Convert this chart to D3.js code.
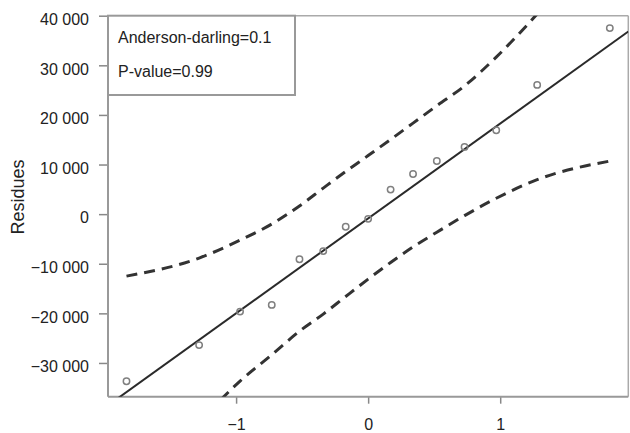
<!DOCTYPE html>
<html>
<head>
<meta charset="utf-8">
<script src="https://cdn.jsdelivr.net/npm/d3@7"></script>
<style>
  body { margin: 0; background: #fff; }
  text { font-family: "Liberation Sans", Arial, sans-serif; }
</style>
</head>
<body>
<div id="chart"></div>
<script>
// normal quantiles (x) and residues (y)
const quantiles = [-1.83, -1.28, -0.97, -0.73, -0.52, -0.34, -0.17, 0, 0.17, 0.34, 0.52, 0.73, 0.97, 1.28, 1.83];
const residues = [-33700, -26400, -19650, -18300, -9100, -7450, -2550, -950, 4950, 8100, 10700, 13550, 16900, 26050, 37500];
// confidence band, same x as the quantiles
const upperBand = [-12500, -8850, -5250, -2000, 1650, 5250, 8600, 11800, 15050, 18350, 21850, 25850, 31650, 40350, 57700];
const lowerBand = [-59400, -42000, -33650, -28350, -23600, -20150, -16600, -13100, -9750, -6600, -3650, -300, 3200, 6950, 10700];
// fitted line ends
const fitX = [-1.97, 1.97];
const fitY = [-38550, 36820];

const yTicks = [-30000, -20000, -10000, 0, 10000, 20000, 30000, 40000];
const xTicks = [-1, 0, 1];
const legendLines = ["Anderson-darling=0.1", "P-value=0.99"];

const W = 630, H = 433;
const pLeft = 108, pRight = 628.3, pTop = 15.7, pBottom = 396.7;

const svg = d3.select("#chart").append("svg")
    .attr("width", W)
    .attr("height", H);

const x = d3.scaleLinear().domain([-1.97, 1.97]).range([pLeft, pRight]);
const y = d3.scaleLinear().domain([-36800, 40000]).range([pBottom, pTop]);

svg.append("clipPath").attr("id", "plotclip")
  .append("rect")
    .attr("x", pLeft).attr("y", pTop)
    .attr("width", pRight - pLeft).attr("height", pBottom - pTop);

const fmt = d3.formatLocale({decimal: ".", thousands: " ", grouping: [3], currency: ["", ""], minus: "\u2212"}).format(",d");

// y axis
const yAx = svg.append("g")
    .attr("transform", `translate(${pLeft},0)`)
    .call(d3.axisLeft(y).tickValues(yTicks).tickFormat(fmt).tickSize(9).tickPadding(10));
yAx.select(".domain").remove();
yAx.selectAll(".tick line").attr("stroke", "#888").attr("stroke-width", 1.5);
yAx.selectAll(".tick text").attr("font-size", 16).attr("fill", "#222").attr("dy", "0.55em")
    .style("font-family", '"Liberation Sans", Arial, sans-serif');

// x axis
const xAx = svg.append("g")
    .attr("transform", `translate(0,${pBottom})`)
    .call(d3.axisBottom(x).tickValues(xTicks).tickFormat(fmt).tickSize(7).tickPadding(15));
xAx.select(".domain").remove();
xAx.selectAll(".tick line").attr("stroke", "#888").attr("stroke-width", 1.5);
xAx.selectAll(".tick text").attr("font-size", 16).attr("fill", "#222")
    .style("font-family", '"Liberation Sans", Arial, sans-serif');

// frame
const frame = svg.append("g").attr("fill", "none");
frame.append("line").attr("x1", pLeft).attr("x2", pRight).attr("y1", pTop).attr("y2", pTop)
    .attr("stroke", "#aaa").attr("stroke-width", 1.5);
frame.append("line").attr("x1", pRight).attr("x2", pRight).attr("y1", pTop).attr("y2", pBottom)
    .attr("stroke", "#aaa").attr("stroke-width", 1.5);
frame.append("line").attr("x1", pLeft).attr("x2", pRight).attr("y1", pBottom).attr("y2", pBottom)
    .attr("stroke", "#999").attr("stroke-width", 2);
frame.append("line").attr("x1", pLeft).attr("x2", pLeft).attr("y1", pTop).attr("y2", pBottom)
    .attr("stroke", "#999").attr("stroke-width", 2);

const plot = svg.append("g").attr("clip-path", "url(#plotclip)");

// bands
const bandLine = d3.line().curve(d3.curveMonotoneX).x(d => x(d[0])).y(d => y(d[1]));
[upperBand, lowerBand].forEach(b => {
  plot.append("path")
      .attr("d", bandLine(d3.zip(quantiles, b)))
      .attr("fill", "none")
      .attr("stroke", "#333")
      .attr("stroke-width", 3)
      .attr("stroke-dasharray", "11,7");
});

// fitted line
plot.append("path")
    .attr("d", d3.line().x(d => x(d[0])).y(d => y(d[1]))(d3.zip(fitX, fitY)))
    .attr("fill", "none")
    .attr("stroke", "#2a2a2a")
    .attr("stroke-width", 2);

// points
plot.selectAll("circle.pt")
  .data(d3.zip(quantiles, residues))
  .join("circle")
    .attr("class", "pt")
    .attr("cx", d => x(d[0]))
    .attr("cy", d => y(d[1]))
    .attr("r", 3.2)
    .attr("fill", "none")
    .attr("stroke", "#808080")
    .attr("stroke-width", 1.5);

// legend box
svg.append("rect")
    .attr("x", pLeft).attr("y", pTop)
    .attr("width", 295 - pLeft).attr("height", 95 - pTop)
    .attr("fill", "#fff")
    .attr("stroke", "#999")
    .attr("stroke-width", 2);
svg.selectAll("text.leg")
  .data(legendLines)
  .join("text")
    .attr("class", "leg")
    .attr("x", 118)
    .attr("y", (d, i) => 42.5 + i * 34)
    .attr("font-size", 16)
    .attr("fill", "#222")
    .text(d => d);

// axis title
svg.append("text")
    .attr("transform", "translate(24,197) rotate(-90)")
    .attr("text-anchor", "middle")
    .attr("font-size", 18)
    .attr("fill", "#222")
    .text("Residues");
</script>
</body>
</html>
